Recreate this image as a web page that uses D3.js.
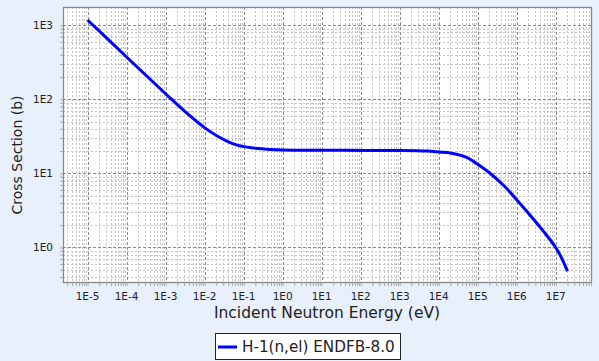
<!DOCTYPE html>
<html><head><meta charset="utf-8">
<script src="https://cdn.jsdelivr.net/npm/d3@7"></script>
<style>
html,body{margin:0;padding:0;background:#e8f0fc;}
svg{display:block;font-family:"DejaVu Sans",sans-serif;}
</style></head>
<body><svg id="c" width="599" height="361"></svg>
<script>
// Data
const energy = [1e-5, 1e-4, 1e-3, 3e-3, 1e-2, 2e-2, 5e-2, 1e-1, 2e-1, 5e-1, 1, 10, 100, 1e3, 5e3, 1e4, 2e4, 5e4, 1e5, 2e5, 5e5, 1e6, 2e6, 5e6, 1e7, 1.4e7, 2e7];
const sigma  = [1180, 373, 119, 70, 41.5, 32.5, 25.5, 23.0, 21.8, 21.0, 20.7, 20.5, 20.45, 20.35, 20.0, 19.5, 18.9, 16.6, 13.3, 10.2, 6.6, 4.4, 2.9, 1.62, 1.0, 0.73, 0.48];
const seriesName = "H-1(n,el) ENDFB-8.0";
const xTickLabels = ["1E-5","1E-4","1E-3","1E-2","1E-1","1E0","1E1","1E2","1E3","1E4","1E5","1E6","1E7"];
const yTickLabels = ["1E0","1E1","1E2","1E3"];
const xTitle = "Incident Neutron Energy (eV)";
const yTitle = "Cross Section (b)";

const svg = d3.select("#c");
const L = 63, R = 592, T = 7, B = 283;
const x = d3.scaleLog().domain([Math.pow(10,-5.63), Math.pow(10,7.93)]).range([L, R]);
const y = d3.scaleLog().domain([Math.pow(10,-0.48), Math.pow(10,3.247)]).range([B, T]);

svg.append("rect").attr("x",L).attr("y",T).attr("width",R-L).attr("height",B-T).attr("fill","#fff");

// grid
const g = svg.append("g");
const xMinor = [], xMajor = [];
for (let e = -6; e <= 8; e++) for (let m = 1; m <= 9; m++) {
  const v = m*Math.pow(10,e);
  if (v < x.domain()[0] || v > x.domain()[1]) continue;
  (m===1 ? xMajor : xMinor).push(v);
}
const yMinor = [], yMajor = [];
for (let e = -1; e <= 3; e++) for (let m = 1; m <= 9; m++) {
  const v = m*Math.pow(10,e);
  if (v < y.domain()[0] || v > y.domain()[1]) continue;
  (m===1 ? yMajor : yMinor).push(v);
}
g.selectAll(".xm").data(xMinor).enter().append("line")
  .attr("x1",d=>Math.round(x(d))+0.5).attr("x2",d=>Math.round(x(d))+0.5).attr("y1",T).attr("y2",B)
  .attr("stroke","#c4c4c4").attr("stroke-width",1).attr("stroke-dasharray","2,2");
g.selectAll(".ym").data(yMinor).enter().append("line")
  .attr("y1",d=>Math.round(y(d))+0.5).attr("y2",d=>Math.round(y(d))+0.5).attr("x1",L).attr("x2",R)
  .attr("stroke","#c4c4c4").attr("stroke-width",1).attr("stroke-dasharray","2,2");
g.selectAll(".xM").data(xMajor).enter().append("line")
  .attr("x1",d=>Math.round(x(d))+0.5).attr("x2",d=>Math.round(x(d))+0.5).attr("y1",T).attr("y2",B)
  .attr("stroke","#8c8c8c").attr("stroke-width",1).attr("stroke-dasharray","3,2");
g.selectAll(".yM").data(yMajor).enter().append("line")
  .attr("y1",d=>Math.round(y(d))+0.5).attr("y2",d=>Math.round(y(d))+0.5).attr("x1",L).attr("x2",R)
  .attr("stroke","#8c8c8c").attr("stroke-width",1).attr("stroke-dasharray","3,2");

// axes
const xAxis = d3.axisBottom(x).tickValues(xMinor.concat(xMajor)).tickSize(3).tickFormat(()=> "");
const yAxis = d3.axisLeft(y).tickValues(yMinor.concat(yMajor)).tickSize(3).tickFormat(()=> "");
const xa = svg.append("g").attr("transform",`translate(0,${B})`).call(xAxis);
const ya = svg.append("g").attr("transform",`translate(${L},0)`).call(yAxis);
[xa,ya].forEach(a=>{a.select(".domain").remove(); a.selectAll("line").attr("stroke","#aaa");});

svg.append("g").selectAll("text").data(xMajor.filter(v=>v>=1e-5 && v<=1e7)).enter().append("text")
  .attr("x",d=>x(d)).attr("y",300).attr("text-anchor","middle")
  .attr("font-size","10.5px").attr("fill","#222").text((d,i)=>xTickLabels[i]);
svg.append("g").selectAll("text").data(yMajor).enter().append("text")
  .attr("x",53).attr("y",d=>y(d)).attr("dy","0.35em").attr("text-anchor","end")
  .attr("font-size","10.5px").attr("fill","#222").text((d,i)=>yTickLabels[i]);

// border
svg.append("rect").attr("x",L+0.5).attr("y",T+0.5).attr("width",R-L-1).attr("height",B-T-1)
  .attr("fill","none").attr("stroke","#888").attr("stroke-width",1.3);

// curve
const line = d3.line().x((d,i)=>x(energy[i])).y(d=>y(d)).curve(d3.curveCatmullRom.alpha(0.5));
svg.append("path").datum(sigma).attr("d",line).attr("fill","none")
  .attr("stroke","#0000ff").attr("stroke-width",3).attr("stroke-linejoin","round");

// titles
svg.append("text").attr("x",327).attr("y",318).attr("text-anchor","middle")
  .attr("font-size","15.5px").attr("fill","#222").text(xTitle);
svg.append("text").attr("transform","translate(22,155) rotate(-90)").attr("text-anchor","middle")
  .attr("font-size","14px").attr("fill","#222").text(yTitle);

// legend
const lg = svg.append("g");
lg.append("rect").attr("x",215.5).attr("y",333.5).attr("width",185).attr("height",26)
  .attr("fill","#fff").attr("stroke","#222").attr("stroke-width",1);
lg.append("line").attr("x1",218).attr("x2",237).attr("y1",347).attr("y2",347)
  .attr("stroke","#0000ff").attr("stroke-width",3);
lg.append("text").attr("x",242).attr("y",352).attr("font-size","15.2px").attr("fill","#222").text(seriesName);
</script></body></html>
